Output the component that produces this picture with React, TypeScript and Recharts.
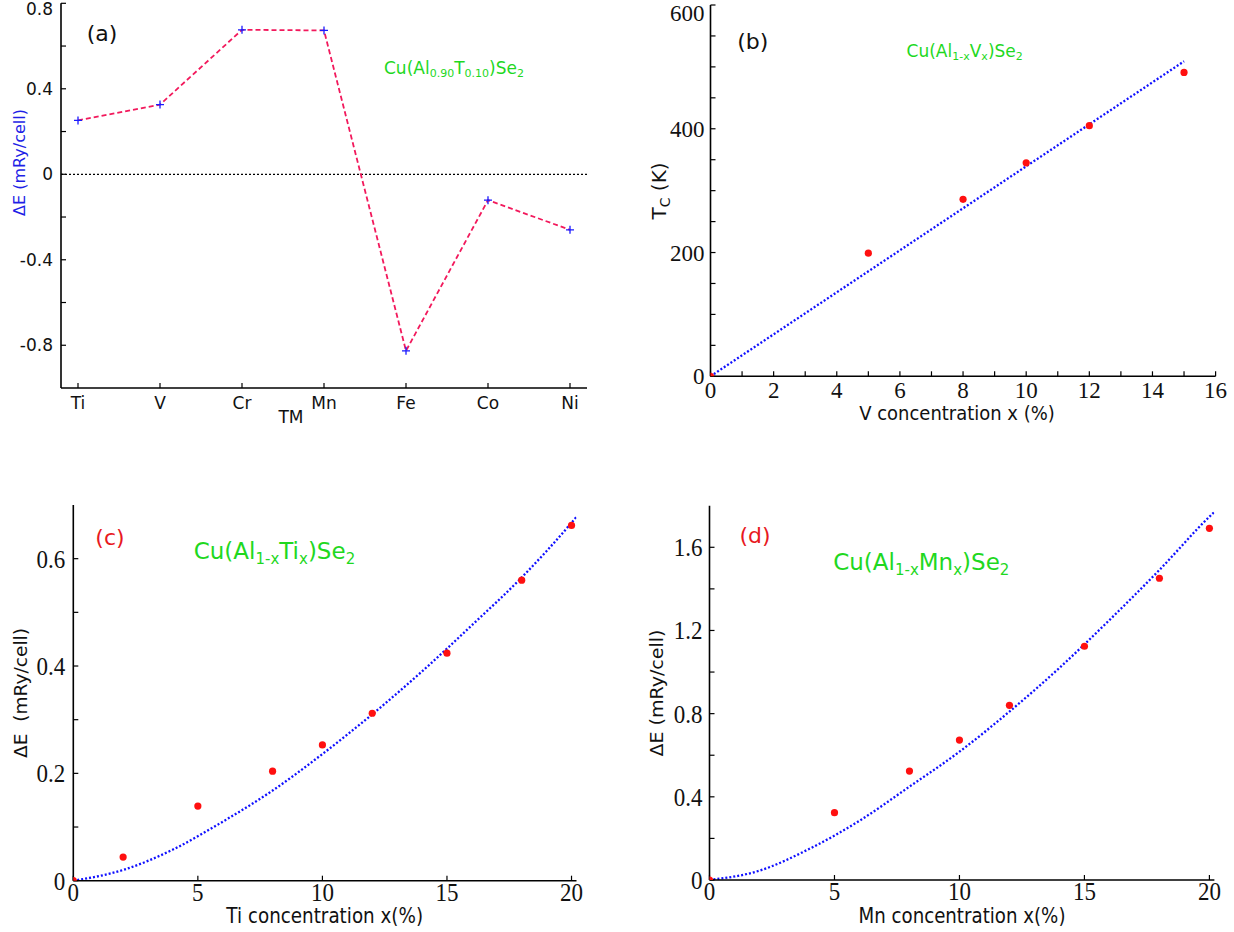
import React from "react";
import {
  LineChart,
  ComposedChart,
  Line,
  Scatter,
  XAxis,
  YAxis,
  ReferenceLine,
} from "recharts";

// (a) 10% TM substitution
const tmNames = ["Ti", "V", "Cr", "Mn", "Fe", "Co", "Ni"];
const tmDeltaE = [0.252, 0.326, 0.676, 0.673, -0.826, -0.121, -0.26];
const tmTicksY = [-0.8, -0.6, -0.4, -0.2, 0, 0.2, 0.4, 0.6, 0.8];

// (b) V doping, Curie temperature
const vConc = [0, 5, 8, 10, 12, 15];
const vTc = [0, 199, 286, 345, 405, 491];
const vFitConc = [0, 15];
const vFitTc = [0, 509];
const vTicksX = [0, 1, 2, 3, 4, 5, 6, 7, 8, 9, 10, 11, 12, 13, 14, 15, 16];
const vTicksY = [0, 50, 100, 150, 200, 250, 300, 350, 400, 450, 500, 550, 600];

// (c) Ti doping
const tiConc = [0, 2, 5, 8, 10, 12, 15, 18, 20];
const tiDeltaE = [0, 0.044, 0.139, 0.204, 0.253, 0.312, 0.424, 0.56, 0.662];
const tiFitConc = [0, 2, 4, 6, 8, 10, 12, 14, 16, 18, 20, 20.2];
const tiFitE = [0, 0.02, 0.058, 0.11, 0.168, 0.236, 0.31, 0.39, 0.476, 0.565, 0.667, 0.678];
const tiTicksX = [0, 5, 10, 15, 20];
const tiTicksY = [0, 0.1, 0.2, 0.3, 0.4, 0.5, 0.6];

// (d) Mn doping
const mnConc = [0, 5, 8, 10, 12, 15, 18, 20];
const mnDeltaE = [0, 0.324, 0.524, 0.673, 0.84, 1.124, 1.451, 1.691];
const mnFitConc = [0, 2, 4, 6, 8, 10, 12, 14, 16, 18, 20, 20.2];
const mnFitE = [0, 0.045, 0.15, 0.285, 0.449, 0.617, 0.81, 1.02, 1.25, 1.491, 1.747, 1.77];
const mnTicksX = [0, 5, 10, 15, 20];
const mnTicksY = [0, 0.2, 0.4, 0.6, 0.8, 1.0, 1.2, 1.4, 1.6];

const SANS = "DejaVu Sans, sans-serif";
const SERIF = "Liberation Serif, Times New Roman, serif";
const GREEN = "#1fd81f";
const RED = "#e8191e";
const BLUE_FIT = "#1010ff";

const rowsA = tmNames.map((tm, i) => ({ tm, dE: tmDeltaE[i] }));
const pairs = (xs: number[], ys: number[]) => xs.map((x, i) => ({ x, y: ys[i] }));
const ptsB = pairs(vConc, vTc);
const fitB = pairs(vFitConc, vFitTc);
const ptsC = pairs(tiConc, tiDeltaE);
const fitC = pairs(tiFitConc, tiFitE);
const ptsD = pairs(mnConc, mnDeltaE);
const fitD = pairs(mnFitConc, mnFitE);

const axLine = { stroke: "#000", strokeWidth: 1.6 };
const tkLine = { stroke: "#000", strokeWidth: 1.2 };

// tick label renderer (keeps labels inside the page at the top edge)
const mkTick =
  (family: string, size: number, fmt: (v: any) => string, side: "bottom" | "left", minY = -1e9, sx = 1) =>
  (p: any) => {
    const label = fmt(p.payload.value);
    if (!label) return <g />;
    const left = side === "left";
    const y = left ? Math.max(p.y, minY) : p.y;
    return (
      <text
        transform={`translate(${p.x},${y}) scale(${sx},1)`}
        dy={left ? "0.355em" : "0.71em"}
        textAnchor={left ? "end" : "middle"}
        style={{ fontFamily: family, fontSize: size }}
        fill="#111"
      >
        {label}
      </text>
    );
  };

const RedDot = (p: any) => <circle cx={p.cx} cy={p.cy} r={3.6} fill="#ff1010" />;

const PlusDot = (p: any) => (
  <path
    key={`plus-${p.index}`}
    d={`M${p.cx - 4},${p.cy}h8M${p.cx},${p.cy - 4}v8`}
    stroke="#1a1aff"
    strokeWidth={1.3}
    fill="none"
  />
);

const chemA: [string, boolean][] = [["Cu(Al", false], ["0.90", true], ["T", false], ["0.10", true], [")Se", false], ["2", true]];
const chemB: [string, boolean][] = [["Cu(Al", false], ["1-x", true], ["V", false], ["x", true], [")Se", false], ["2", true]];
const chemC: [string, boolean][] = [["Cu(Al", false], ["1-x", true], ["Ti", false], ["x", true], [")Se", false], ["2", true]];
const chemD: [string, boolean][] = [["Cu(Al", false], ["1-x", true], ["Mn", false], ["x", true], [")Se", false], ["2", true]];

function Chem({ x, y, size, parts }: { x: number; y: number; size: number; parts: [string, boolean][] }) {
  const sub = Math.round(size * 0.65);
  const shift = size * 0.2;
  let level = 0;
  return (
    <text x={x} y={y} fontFamily={SANS} fontSize={size} fill={GREEN}>
      {parts.map(([t, s], i) => {
        const target = s ? shift : 0;
        const dy = target - level;
        level = target;
        return (
          <tspan key={i} dy={dy} fontSize={s ? sub : size}>
            {t}
          </tspan>
        );
      })}
    </text>
  );
}

function ConcPanel({
  pts,
  fit,
  xDomain,
  yDomain,
  xTicks,
  yTicks,
  xLabel,
  yLabel,
  width,
  height,
  margin,
  yWidth,
  yMargin,
  xMargin,
  fontSize,
  scaleX,
  topY,
}: any) {
  return (
    <ComposedChart width={width} height={height} margin={margin}>
      <XAxis
        dataKey="x"
        type="number"
        domain={xDomain}
        allowDataOverflow
        ticks={xTicks}
        interval={0}
        height={30}
        tickSize={-5}
        tickMargin={xMargin}
        axisLine={axLine}
        tickLine={tkLine}
        tick={mkTick(SERIF, fontSize, xLabel, "bottom", -1e9, scaleX)}
      />
      <XAxis
        xAxisId="top"
        orientation="top"
        type="number"
        domain={xDomain}
        allowDataOverflow
        ticks={xTicks}
        interval={0}
        height={0}
        tickSize={-5}
        tick={false}
        axisLine={axLine}
        tickLine={tkLine}
      />
      <YAxis
        dataKey="y"
        type="number"
        domain={yDomain}
        allowDataOverflow
        ticks={yTicks}
        interval={0}
        width={yWidth}
        tickSize={-5}
        tickMargin={yMargin}
        axisLine={axLine}
        tickLine={tkLine}
        tick={mkTick(SERIF, fontSize, yLabel, "left", topY, scaleX)}
      />
      <YAxis
        yAxisId="right"
        orientation="right"
        type="number"
        domain={yDomain}
        allowDataOverflow
        ticks={yTicks}
        interval={0}
        width={0}
        tickSize={-5}
        tick={false}
        axisLine={axLine}
        tickLine={tkLine}
      />
      <Line
        data={fit}
        dataKey="y"
        type="monotone"
        stroke={BLUE_FIT}
        strokeWidth={2.3}
        strokeDasharray="2 2"
        dot={false}
        isAnimationActive={false}
      />
      <Scatter data={pts} dataKey="y" shape={RedDot} isAnimationActive={false} />
    </ComposedChart>
  );
}

export default function App() {
  return (
    <div style={{ position: "absolute", left: 0, top: 0, width: 1234, height: 932, background: "#fff" }}>
      {/* (a) */}
      <div style={{ position: "absolute", left: 0, top: 0 }}>
        <LineChart width={620} height={440} data={rowsA} margin={{ top: 3.3, right: 33, bottom: 22, left: 0 }}>
          <XAxis
            dataKey="tm"
            type="category"
            padding={{ left: 17, right: 17 }}
            interval={0}
            height={30}
            tickSize={-5}
            tickMargin={14}
            axisLine={axLine}
            tickLine={tkLine}
            tick={mkTick(SANS, 17, (v) => String(v), "bottom")}
          />
          <XAxis
            xAxisId="top"
            orientation="top"
            dataKey="tm"
            type="category"
            padding={{ left: 17, right: 17 }}
            interval={0}
            height={0}
            tickSize={-5}
            tick={false}
            axisLine={axLine}
            tickLine={tkLine}
          />
          <YAxis
            type="number"
            domain={[-1, 0.8]}
            allowDataOverflow
            ticks={tmTicksY}
            interval={0}
            width={61}
            tickSize={-5}
            tickMargin={13}
            axisLine={axLine}
            tickLine={tkLine}
            tick={mkTick(SANS, 17, (v: number) => (Math.round(v * 10) % 4 === 0 ? String(v) : ""), "left", 9)}
          />
          <YAxis
            yAxisId="right"
            orientation="right"
            type="number"
            domain={[-1, 0.8]}
            allowDataOverflow
            ticks={tmTicksY}
            interval={0}
            width={0}
            tickSize={-5}
            tick={false}
            axisLine={axLine}
            tickLine={tkLine}
          />
          <ReferenceLine y={0} stroke="#000" strokeWidth={1.2} strokeDasharray="2 2" />
          <Line
            dataKey="dE"
            stroke="#f2195c"
            strokeWidth={1.8}
            strokeDasharray="5 3"
            dot={PlusDot}
            isAnimationActive={false}
          />
        </LineChart>
      </div>

      {/* (b) */}
      <div style={{ position: "absolute", left: 620, top: 0 }}>
        <ConcPanel
          pts={ptsB}
          fit={fitB}
          xDomain={[0, 16]}
          yDomain={[0, 600]}
          xTicks={vTicksX}
          yTicks={vTicksY}
          xLabel={(v: number) => (v % 2 === 0 ? String(v) : "")}
          yLabel={(v: number) => (v % 200 === 0 ? String(v) : "")}
          width={614}
          height={440}
          margin={{ top: 5, right: 18.4, bottom: 33.7, left: 0 }}
          yWidth={90.5}
          yMargin={11}
          xMargin={10}
          fontSize={23}
          scaleX={1}
          topY={13}
        />
      </div>

      {/* (c) */}
      <div style={{ position: "absolute", left: 0, top: 480 }}>
        <ConcPanel
          pts={ptsC}
          fit={fitC}
          xDomain={[0, 20.2]}
          yDomain={[0, 0.7]}
          xTicks={tiTicksX}
          yTicks={tiTicksY}
          xLabel={(v: number) => String(v)}
          yLabel={(v: number) => (Math.round(v * 10) % 2 === 0 ? String(v) : "")}
          width={620}
          height={452}
          margin={{ top: 25, right: 43.5, bottom: 21.3, left: 0 }}
          yWidth={73.3}
          yMargin={13}
          xMargin={7.5}
          fontSize={25}
          scaleX={0.92}
        />
      </div>

      {/* (d) */}
      <div style={{ position: "absolute", left: 620, top: 480 }}>
        <ConcPanel
          pts={ptsD}
          fit={fitD}
          xDomain={[0, 20.2]}
          yDomain={[0, 1.8]}
          xTicks={mnTicksX}
          yTicks={mnTicksY}
          xLabel={(v: number) => String(v)}
          yLabel={(v: number) => (Math.round(v * 10) % 4 === 0 ? String(v) : "")}
          width={614}
          height={452}
          margin={{ top: 25.7, right: 19.6, bottom: 22, left: 0 }}
          yWidth={89.5}
          yMargin={12}
          xMargin={7.5}
          fontSize={25}
          scaleX={0.92}
        />
      </div>

      {/* panel labels and axis titles */}
      <svg width={1234} height={932} style={{ position: "absolute", left: 0, top: 0, pointerEvents: "none" }}>
        <g fontFamily={SANS}>
          <text x={102} y={41.3} textAnchor="middle" fontSize={22} fill="#111">(a)</text>
          <Chem x={384} y={74} size={17} parts={chemA} />
          <text transform="translate(25,162.5) rotate(-90)" textAnchor="middle" fontSize={16} fill="#1f1fe6">
            ΔE (mRy/cell)
          </text>
          <text x={291} y={423} textAnchor="middle" fontSize={17} fill="#111">TM</text>

          <text x={752.7} y={48.8} textAnchor="middle" fontSize={22} fill="#111">(b)</text>
          <Chem x={906.6} y={57} size={17} parts={chemB} />
          <text transform="translate(666,191) rotate(-90)" textAnchor="middle" fontSize={20} fill="#111">
            T<tspan fontSize={14} dy={4}>C</tspan>
            <tspan dy={-4} style={{ whiteSpace: "pre" }}> (K)</tspan>
          </text>
          <text x={957} y={420} textAnchor="middle" fontSize={19} fill="#111" textLength={195.5} lengthAdjust="spacingAndGlyphs">
            V concentration x (%)
          </text>

          <text x={110} y={544.8} textAnchor="middle" fontSize={22} fill={RED}>(c)</text>
          <Chem x={193.7} y={559} size={23} parts={chemC} />
          <text
            transform="translate(26.5,693) rotate(-90)"
            textAnchor="middle"
            fontSize={18}
            fill="#111"
            textLength={130}
            lengthAdjust="spacingAndGlyphs"
            style={{ whiteSpace: "pre" }}
          >
            {"ΔE  (mRy/cell)"}
          </text>
          <text x={324.7} y={923} textAnchor="middle" fontSize={21} fill="#111" textLength={196.7} lengthAdjust="spacingAndGlyphs">
            Ti concentration x(%)
          </text>

          <text x={755} y={542.8} textAnchor="middle" fontSize={22} fill={RED}>(d)</text>
          <Chem x={833.2} y={570} size={23} parts={chemD} />
          <text
            transform="translate(662.7,693) rotate(-90)"
            textAnchor="middle"
            fontSize={18}
            fill="#111"
            textLength={127}
            lengthAdjust="spacingAndGlyphs"
          >
            ΔE (mRy/cell)
          </text>
          <text x={962} y={923} textAnchor="middle" fontSize={21} fill="#111" textLength={207} lengthAdjust="spacingAndGlyphs">
            Mn concentration x(%)
          </text>
        </g>
      </svg>
    </div>
  );
}
